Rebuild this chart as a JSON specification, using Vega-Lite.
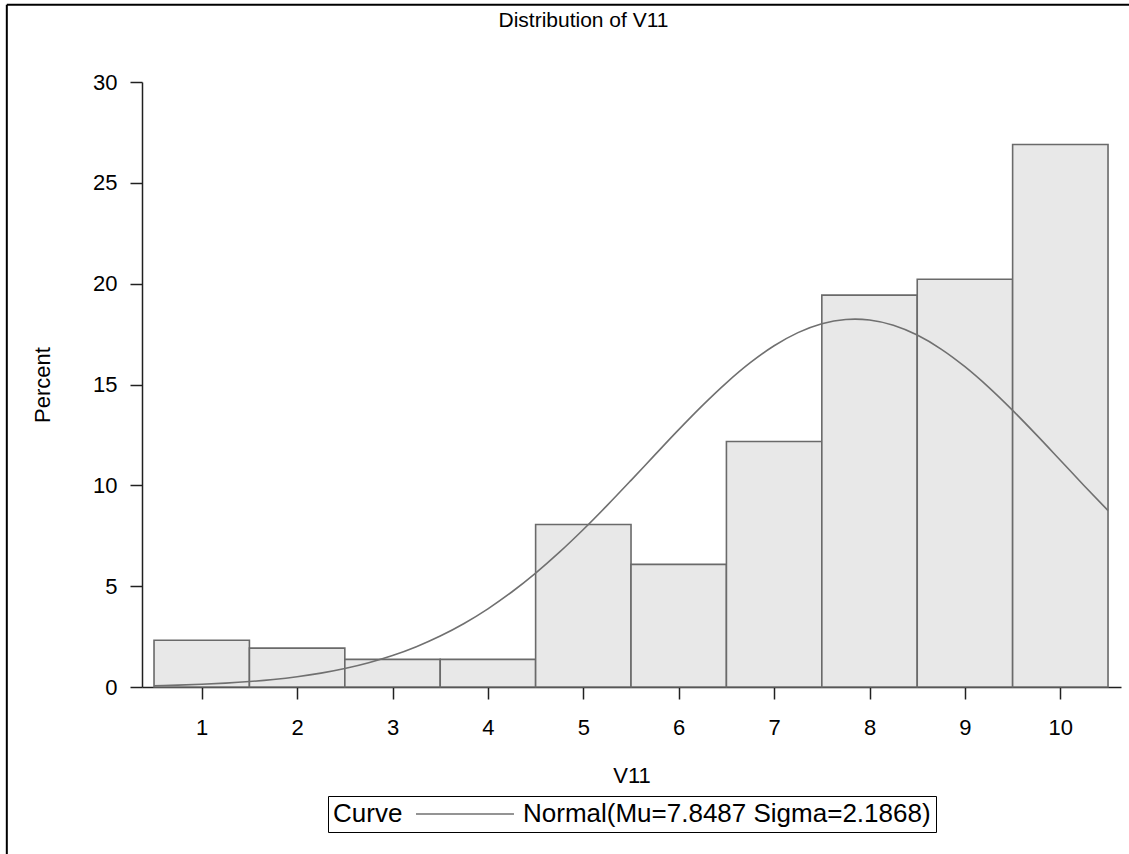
{
  "$schema": "https://vega.github.io/schema/vega-lite/v6.json",
  "width": 979,
  "height": 605,
  "autosize": {"type": "none"},
  "padding": {"left": 142, "top": 82, "right": 8, "bottom": 167},
  "background": "white",
  "config": {
    "view": {"stroke": null},
    "font": "Liberation Sans",
    "axis": {
      "domainColor": "#202020",
      "domainWidth": 1.5,
      "tickColor": "#202020",
      "tickWidth": 1.5,
      "tickSize": 12,
      "labelColor": "black",
      "titleColor": "black",
      "labelFontSize": 22,
      "titleFontSize": 22,
      "titleFontWeight": "normal",
      "grid": false
    }
  },
  "title": {
    "text": "Distribution of V11",
    "fontSize": 21,
    "fontWeight": "normal",
    "color": "black",
    "offset": -27,
    "dx": -48
  },
  "layer": [
    {
      "data": {
        "values": [
          {"V11": 1, "lo": 0.5, "hi": 1.5, "Percent": 2.32},
          {"V11": 2, "lo": 1.5, "hi": 2.5, "Percent": 1.93},
          {"V11": 3, "lo": 2.5, "hi": 3.5, "Percent": 1.37},
          {"V11": 4, "lo": 3.5, "hi": 4.5, "Percent": 1.37},
          {"V11": 5, "lo": 4.5, "hi": 5.5, "Percent": 8.06},
          {"V11": 6, "lo": 5.5, "hi": 6.5, "Percent": 6.08},
          {"V11": 7, "lo": 6.5, "hi": 7.5, "Percent": 12.17},
          {"V11": 8, "lo": 7.5, "hi": 8.5, "Percent": 19.43},
          {"V11": 9, "lo": 8.5, "hi": 9.5, "Percent": 20.22},
          {"V11": 10, "lo": 9.5, "hi": 10.5, "Percent": 26.9}
        ]
      },
      "mark": {"type": "rect", "fill": "#e8e8e8", "stroke": "#6a6a6a", "strokeWidth": 1.6},
      "encoding": {
        "x": {
          "field": "lo",
          "type": "quantitative",
          "scale": {"domain": [0.374, 10.636], "nice": false, "zero": false},
          "axis": {
            "title": "V11",
            "values": [1, 2, 3, 4, 5, 6, 7, 8, 9, 10],
            "format": "d",
            "labelPadding": 18,
            "titlePadding": 27
          }
        },
        "x2": {"field": "hi"},
        "y": {
          "field": "Percent",
          "type": "quantitative",
          "scale": {"domain": [0, 30], "nice": false},
          "axis": {
            "title": "Percent",
            "values": [0, 5, 10, 15, 20, 25, 30],
            "labelPadding": 13,
            "titlePadding": 38
          }
        },
        "y2": {"datum": 0}
      }
    },
    {
      "data": {"values": [{"edge": "left"}]},
      "mark": {"type": "rule", "clip": false, "color": "black", "strokeWidth": 2},
      "encoding": {
        "x": {"datum": -1.043, "type": "quantitative"},
        "y": {"datum": 33.83, "type": "quantitative"},
        "y2": {"datum": -9}
      }
    },
    {
      "data": {"values": [{"edge": "top"}]},
      "mark": {"type": "rule", "clip": false, "color": "black", "strokeWidth": 2},
      "encoding": {
        "x": {"datum": -1.043, "type": "quantitative"},
        "x2": {"datum": 11.5},
        "y": {"datum": 33.83, "type": "quantitative"}
      }
    },
    {
      "data": {
        "values": [
          {"x": 0.5, "pct": 0.0644, "Curve": "Normal(Mu=7.8487 Sigma=2.1868)"},
          {"x": 0.75, "pct": 0.0939, "Curve": "Normal(Mu=7.8487 Sigma=2.1868)"},
          {"x": 1.0, "pct": 0.1353, "Curve": "Normal(Mu=7.8487 Sigma=2.1868)"},
          {"x": 1.25, "pct": 0.1922, "Curve": "Normal(Mu=7.8487 Sigma=2.1868)"},
          {"x": 1.5, "pct": 0.2697, "Curve": "Normal(Mu=7.8487 Sigma=2.1868)"},
          {"x": 1.75, "pct": 0.3733, "Curve": "Normal(Mu=7.8487 Sigma=2.1868)"},
          {"x": 2.0, "pct": 0.5103, "Curve": "Normal(Mu=7.8487 Sigma=2.1868)"},
          {"x": 2.25, "pct": 0.688, "Curve": "Normal(Mu=7.8487 Sigma=2.1868)"},
          {"x": 2.5, "pct": 0.9163, "Curve": "Normal(Mu=7.8487 Sigma=2.1868)"},
          {"x": 2.75, "pct": 1.2044, "Curve": "Normal(Mu=7.8487 Sigma=2.1868)"},
          {"x": 3.0, "pct": 1.5617, "Curve": "Normal(Mu=7.8487 Sigma=2.1868)"},
          {"x": 3.25, "pct": 1.9992, "Curve": "Normal(Mu=7.8487 Sigma=2.1868)"},
          {"x": 3.5, "pct": 2.5255, "Curve": "Normal(Mu=7.8487 Sigma=2.1868)"},
          {"x": 3.75, "pct": 3.1496, "Curve": "Normal(Mu=7.8487 Sigma=2.1868)"},
          {"x": 4.0, "pct": 3.8774, "Curve": "Normal(Mu=7.8487 Sigma=2.1868)"},
          {"x": 4.25, "pct": 4.7101, "Curve": "Normal(Mu=7.8487 Sigma=2.1868)"},
          {"x": 4.5, "pct": 5.6479, "Curve": "Normal(Mu=7.8487 Sigma=2.1868)"},
          {"x": 4.75, "pct": 6.6848, "Curve": "Normal(Mu=7.8487 Sigma=2.1868)"},
          {"x": 5.0, "pct": 7.809, "Curve": "Normal(Mu=7.8487 Sigma=2.1868)"},
          {"x": 5.25, "pct": 9.0045, "Curve": "Normal(Mu=7.8487 Sigma=2.1868)"},
          {"x": 5.5, "pct": 10.2469, "Curve": "Normal(Mu=7.8487 Sigma=2.1868)"},
          {"x": 5.75, "pct": 11.5105, "Curve": "Normal(Mu=7.8487 Sigma=2.1868)"},
          {"x": 6.0, "pct": 12.7624, "Curve": "Normal(Mu=7.8487 Sigma=2.1868)"},
          {"x": 6.25, "pct": 13.9656, "Curve": "Normal(Mu=7.8487 Sigma=2.1868)"},
          {"x": 6.5, "pct": 15.0835, "Curve": "Normal(Mu=7.8487 Sigma=2.1868)"},
          {"x": 6.75, "pct": 16.0801, "Curve": "Normal(Mu=7.8487 Sigma=2.1868)"},
          {"x": 7.0, "pct": 16.9198, "Curve": "Normal(Mu=7.8487 Sigma=2.1868)"},
          {"x": 7.25, "pct": 17.5722, "Curve": "Normal(Mu=7.8487 Sigma=2.1868)"},
          {"x": 7.5, "pct": 18.0128, "Curve": "Normal(Mu=7.8487 Sigma=2.1868)"},
          {"x": 7.75, "pct": 18.2246, "Curve": "Normal(Mu=7.8487 Sigma=2.1868)"},
          {"x": 7.8487, "pct": 18.2432, "Curve": "Normal(Mu=7.8487 Sigma=2.1868)"},
          {"x": 8.0, "pct": 18.1996, "Curve": "Normal(Mu=7.8487 Sigma=2.1868)"},
          {"x": 8.25, "pct": 17.9386, "Curve": "Normal(Mu=7.8487 Sigma=2.1868)"},
          {"x": 8.5, "pct": 17.4518, "Curve": "Normal(Mu=7.8487 Sigma=2.1868)"},
          {"x": 8.75, "pct": 16.7577, "Curve": "Normal(Mu=7.8487 Sigma=2.1868)"},
          {"x": 9.0, "pct": 15.8823, "Curve": "Normal(Mu=7.8487 Sigma=2.1868)"},
          {"x": 9.25, "pct": 14.8571, "Curve": "Normal(Mu=7.8487 Sigma=2.1868)"},
          {"x": 9.5, "pct": 13.7176, "Curve": "Normal(Mu=7.8487 Sigma=2.1868)"},
          {"x": 9.75, "pct": 12.5013, "Curve": "Normal(Mu=7.8487 Sigma=2.1868)"},
          {"x": 10.0, "pct": 11.2446, "Curve": "Normal(Mu=7.8487 Sigma=2.1868)"},
          {"x": 10.25, "pct": 9.9829, "Curve": "Normal(Mu=7.8487 Sigma=2.1868)"},
          {"x": 10.5, "pct": 8.7479, "Curve": "Normal(Mu=7.8487 Sigma=2.1868)"}
        ]
      },
      "mark": {"type": "line", "strokeWidth": 1.6, "interpolate": "monotone"},
      "encoding": {
        "x": {"field": "x", "type": "quantitative"},
        "y": {"field": "pct", "type": "quantitative"},
        "stroke": {
          "field": "Curve",
          "type": "nominal",
          "scale": {"range": ["#707070"]},
          "legend": {
            "title": "Curve",
            "titleOrient": "left",
            "titleBaseline": "middle",
            "titleAnchor": "middle",
            "orient": "none",
            "legendX": 186,
            "legendY": 714,
            "direction": "horizontal",
            "strokeColor": "black",
            "padding": 5,
            "symbolType": "M0,0H8",
            "symbolSize": 600,
            "symbolStrokeWidth": 1.5,
            "labelOffset": 94,
            "labelFontSize": 26,
            "titleFontSize": 26,
            "titleFontWeight": "normal",
            "titleColor": "black",
            "labelColor": "black",
            "labelLimit": 700,
            "titlePadding": 0
          }
        }
      }
    }
  ]
}
